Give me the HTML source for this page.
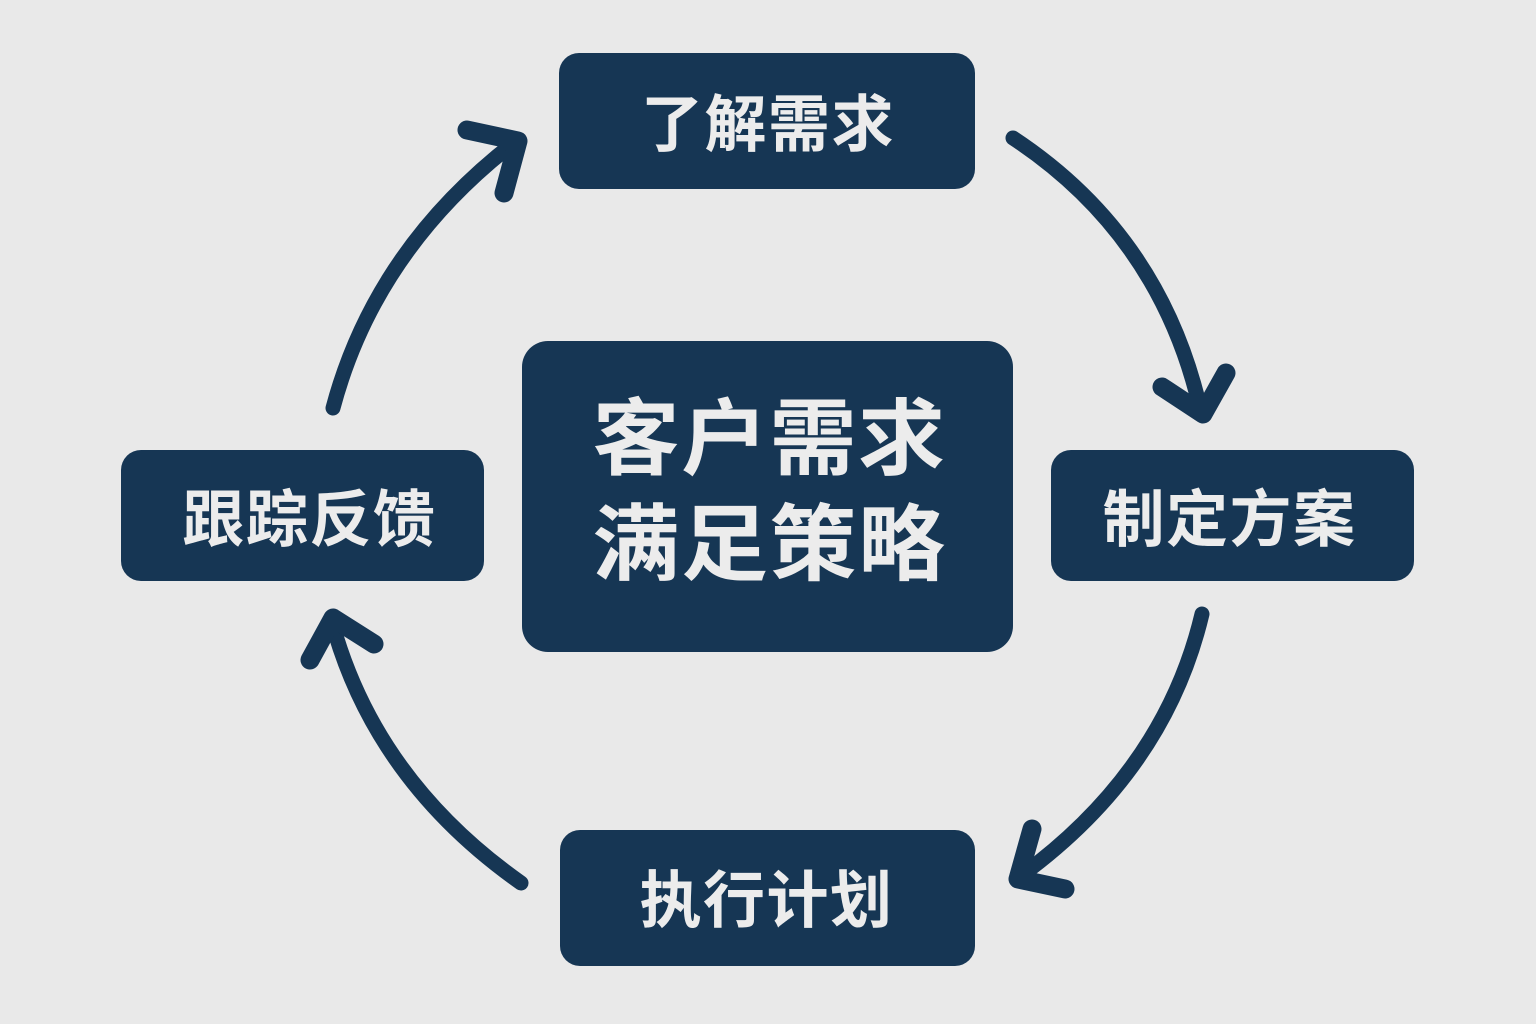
<!DOCTYPE html>
<html>
<head>
<meta charset="utf-8">
<style>
html,body{margin:0;padding:0;background:#e9e9e9;}
body{width:1536px;height:1024px;overflow:hidden;position:relative;font-family:"Liberation Sans","Noto Sans CJK SC",sans-serif;}
.b{position:absolute;background:#163654;color:#ececec;display:flex;align-items:center;justify-content:center;font-weight:700;box-sizing:border-box;white-space:nowrap;}
.b span{position:relative;display:block;text-align:center;}
svg{position:absolute;left:0;top:0;}
.s{stroke-width:15;}
.h{stroke-width:19;}
</style>
</head>
<body>
<div class="b" style="left:559px;top:53px;width:416px;height:136px;border-radius:20px;font-size:62px;letter-spacing:1.5px;"><span style="left:1px;top:-2px;">了解需求</span></div>
<div class="b" style="left:1051px;top:450px;width:363px;height:131px;border-radius:20px;font-size:62px;letter-spacing:1.5px;"><span style="left:-3px;top:-2px;">制定方案</span></div>
<div class="b" style="left:560px;top:830px;width:415px;height:136px;border-radius:20px;font-size:62px;letter-spacing:1.5px;"><span style="left:-1px;top:-3px;">执行计划</span></div>
<div class="b" style="left:121px;top:450px;width:363px;height:131px;border-radius:20px;font-size:62px;letter-spacing:1.5px;"><span style="left:7px;top:-2px;">跟踪反馈</span></div>
<div class="b" style="left:522px;top:341px;width:491px;height:311px;border-radius:26px;font-size:87px;line-height:110px;letter-spacing:1.5px;"><span style="left:2px;top:-4px;transform:scaleY(.96);">客户需求<br>满足策略</span></div>
<svg width="1536" height="1024" viewBox="0 0 1536 1024" fill="none" stroke="#163654" stroke-linecap="round" stroke-linejoin="round">
<path class="s" d="M1013 138 Q1160 235 1200 408"/>
<path class="h" d="M1162 387 L1203 414 L1226 373"/>
<path class="s" d="M1202 614 Q1165 770 1022 875"/>
<path class="h" d="M1065 889 L1018 879 L1032 829"/>
<path class="s" d="M521 883 Q375 780 332 622"/>
<path class="h" d="M310 660 L333 618 L374 644"/>
<path class="s" d="M333 408 Q375 250 515 142"/>
<path class="h" d="M467 130 L518 141 L504 193"/>
</svg>
</body>
</html>
